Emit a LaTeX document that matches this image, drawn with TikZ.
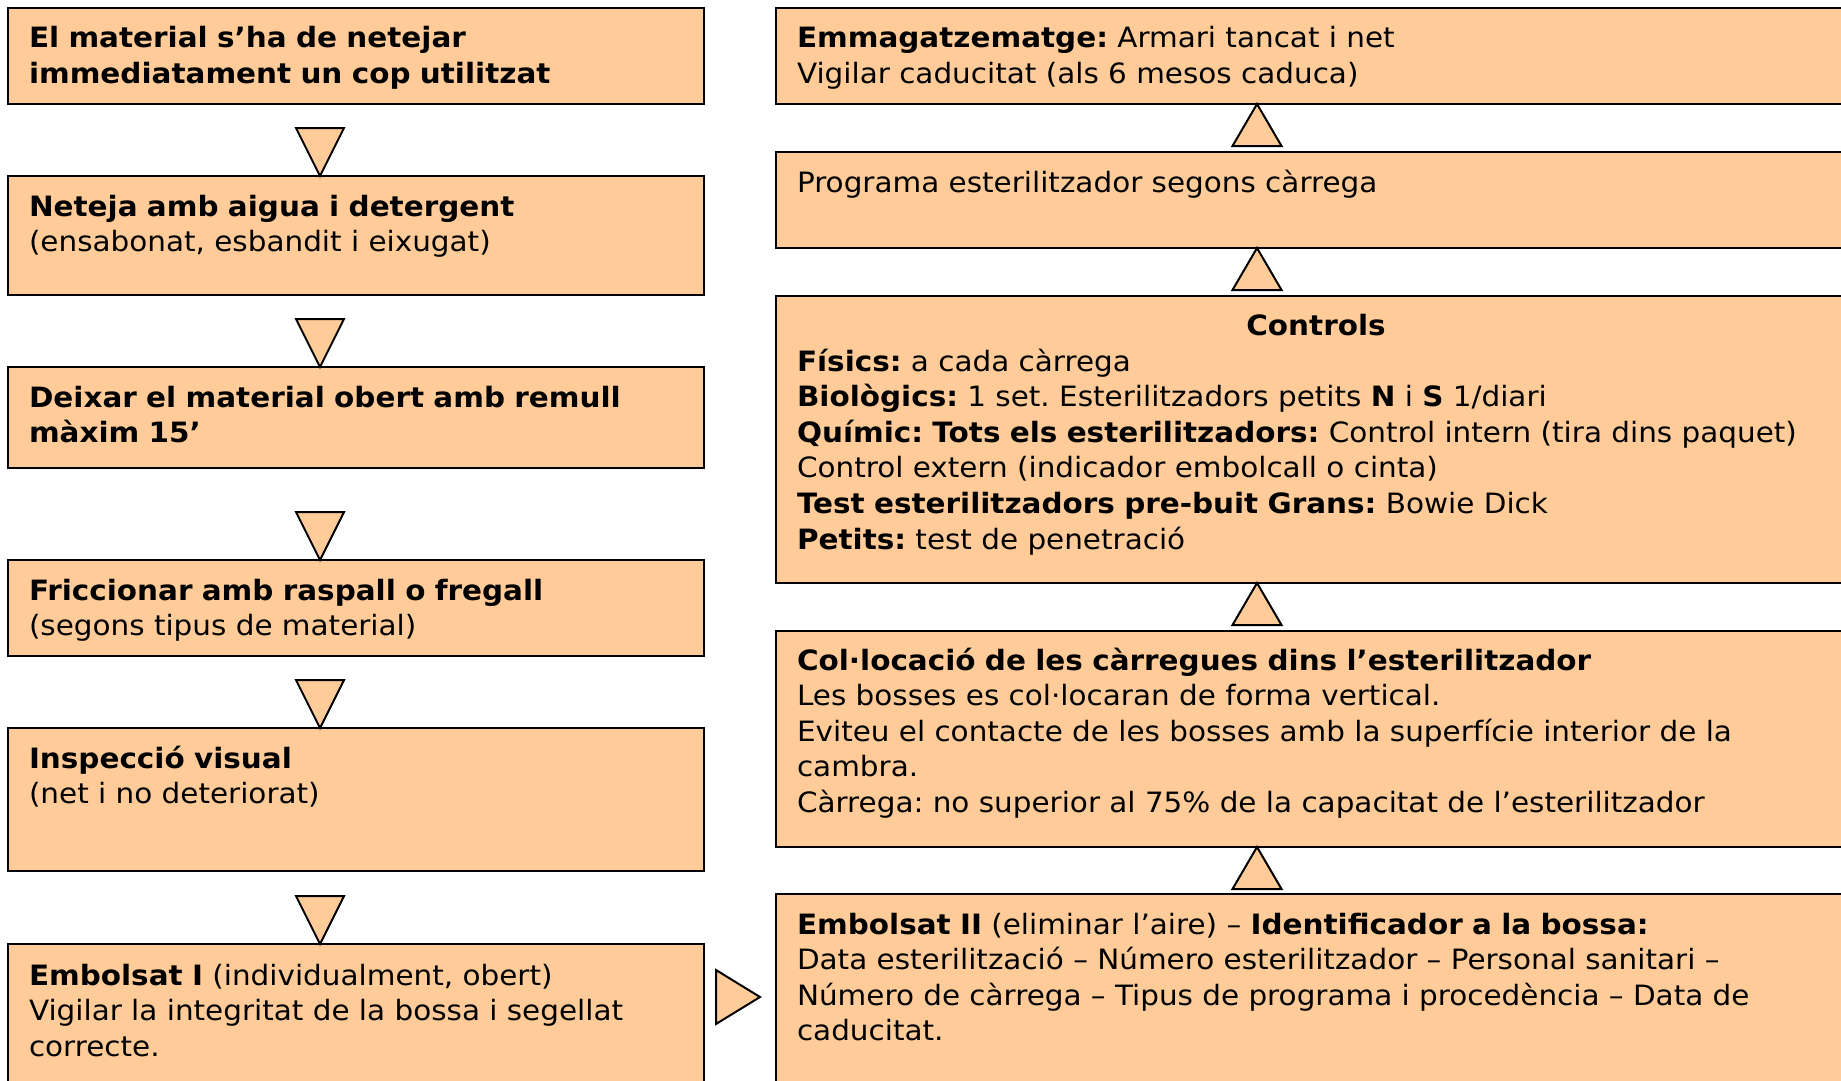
\documentclass[tikz,border=0pt]{standalone}
\usepackage{fontspec}
\setmainfont{DejaVu Sans}[FakeStretch=1.052]
\usetikzlibrary{calc}
\definecolor{peach}{HTML}{FFCC99}
\frenchspacing
\tikzset{
  box/.style={draw=black, line width=2.5pt, fill=peach, rectangle, inner sep=0pt, outer sep=0pt, anchor=north west},
  txt/.style={anchor=base west, inner sep=0pt, outer sep=0pt, text width=1040pt, align=left, font=\fontsize{28}{35.6}\selectfont\frenchspacing},
  ttl/.style={anchor=base, inner sep=0pt, outer sep=0pt, font=\fontsize{28}{35.6}\selectfont\bfseries},
  tri/.style={draw=black, line width=2pt, fill=peach, line join=miter},
}
\begin{document}
\begin{tikzpicture}[x=1pt, y=-1pt]
\useasboundingbox (0,0) rectangle (1841,1081);
\clip (0,0) rectangle (1841,1081);
% left column boxes
\node[box, minimum width=696pt, minimum height=96pt]  (b1) at (8,8) {};
\node[box, minimum width=696pt, minimum height=119pt] (b2) at (8,176) {};
\node[box, minimum width=696pt, minimum height=101pt] (b3) at (8,367) {};
\node[box, minimum width=696pt, minimum height=96pt]  (b4) at (8,560) {};
\node[box, minimum width=696pt, minimum height=143pt] (b5) at (8,728) {};
\node[box, minimum width=696pt, minimum height=160pt] (b6) at (8,944) {};
% right column boxes
\node[box, minimum width=1090pt, minimum height=96pt]  (r1) at (776,8) {};
\node[box, minimum width=1090pt, minimum height=96pt]  (r2) at (776,152) {};
\node[box, minimum width=1090pt, minimum height=287pt] (r3) at (776,296) {};
\node[box, minimum width=1090pt, minimum height=216pt] (r4) at (776,631) {};
\node[box, minimum width=1090pt, minimum height=200pt] (r5) at (776,894) {};
% texts left
\node[txt] (t1) at ($(b1.north west)+(21,40)$) {\textbf{El material s’ha de netejar}\\\textbf{immediatament un cop utilitzat}};
\node[txt] (t2) at ($(b2.north west)+(21,40)$) {\textbf{Neteja amb aigua i detergent}\\(ensabonat, esbandit i eixugat)};
\node[txt] (t3) at ($(b3.north west)+(21,40)$) {\textbf{Deixar el material obert amb remull}\\\textbf{màxim 15’}};
\node[txt] (t4) at ($(b4.north west)+(21,40)$) {\textbf{Friccionar amb raspall o fregall}\\(segons tipus de material)};
\node[txt] (t5) at ($(b5.north west)+(21,40)$) {\textbf{Inspecció visual}\\(net i no deteriorat)};
\node[txt] (t6) at ($(b6.north west)+(21,41)$) {\textbf{Embolsat I} (individualment, obert)\\Vigilar la integritat de la bossa i segellat\\correcte.};
% texts right
\node[txt] (s1) at ($(r1.north west)+(21,40)$) {\textbf{Emmagatzematge:} Armari tancat i net\\Vigilar caducitat (als 6 mesos caduca)};
\node[txt] (s2) at ($(r2.north west)+(21,40)$) {Programa esterilitzador segons càrrega};
\node[ttl] (s3t) at ($(r3.north west)+(540,39)$) {Controls};
\node[txt] (s3) at ($(r3.north west)+(21,75)$) {\textbf{Físics:} a cada càrrega\\\textbf{Biològics:} 1 set. Esterilitzadors petits \textbf{N} i \textbf{S} 1/diari\\\textbf{Químic: Tots els esterilitzadors:} Control intern (tira dins paquet)\\Control extern (indicador embolcall o cinta)\\\textbf{Test esterilitzadors pre-buit Grans:} Bowie Dick\\\textbf{Petits:} test de penetració};
\node[txt] (s4) at ($(r4.north west)+(21,39)$) {\textbf{Col·locació de les càrregues dins l’esterilitzador}\\Les bosses es col·locaran de forma vertical.\\Eviteu el contacte de les bosses amb la superfície interior de la\\cambra.\\Càrrega: no superior al 75\% de la capacitat de l’esterilitzador};
\node[txt] (s5) at ($(r5.north west)+(21,40)$) {\textbf{Embolsat II} (eliminar l’aire) – \textbf{Identificador a la bossa:}\\Data esterilització – Número esterilitzador – Personal sanitari –\\Número de càrrega – Tipus de programa i procedència – Data de\\caducitat.};
% down triangles (left column)
\foreach \a/\b in {b1/b2, b2/b3, b3/b4, b4/b5, b5/b6}{
  \draw[tri] ($(\b.north west)+(312,0)$) -- ($(\b.north west)+(288,-48)$) -- ($(\b.north west)+(336,-48)$) -- cycle;
}
% up triangles (right column)
\foreach \a/\b in {r5/r4, r4/r3, r3/r2, r2/r1}{
  \draw[tri] ($(\b.south west)+(481,0)$) -- ($(\b.south west)+(505.5,42)$) -- ($(\b.south west)+(456.5,42)$) -- cycle;
}
% right-pointing triangle from b6 to r5
\coordinate (rt) at ($(r5.north west)+(-16,103)$);
\draw[tri] (rt) -- ($(rt)+(-44,-27)$) -- ($(rt)+(-44,27)$) -- cycle;
\end{tikzpicture}
\end{document}
